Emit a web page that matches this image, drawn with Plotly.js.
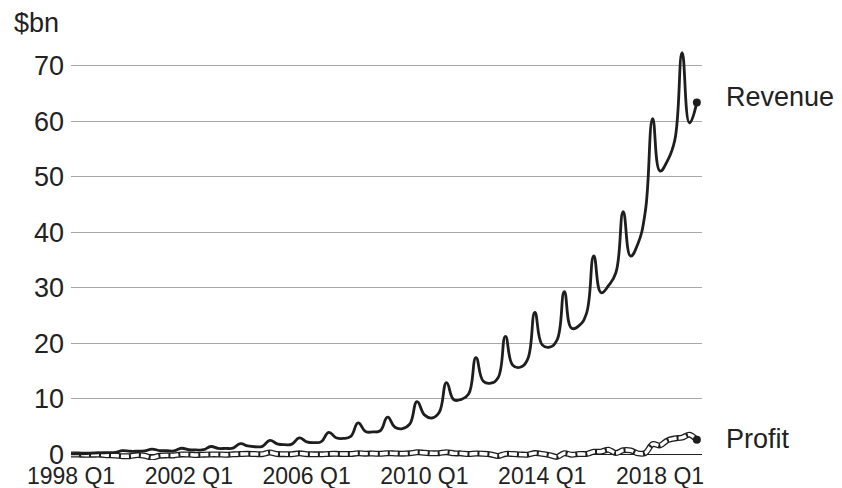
<!DOCTYPE html>
<html>
<head>
<meta charset="utf-8">
<script src="https://cdn.plot.ly/plotly-3.0.1.min.js"></script>
<style>html,body{margin:0;padding:0;background:#fff;}#chart{width:842px;height:488px;}</style>
</head>
<body>
<div id="chart"></div>
<script>
// Quarters 1998 Q1 .. 2019 Q2
const quarters = [];
for (let y = 1998; y <= 2019; y++) {
  for (let q = 1; q <= 4; q++) {
    if (y === 2019 && q > 2) break;
    quarters.push(y + ' Q' + q);
  }
}
const tickLabels = ['1998 Q1', '2002 Q1', '2006 Q1', '2010 Q1', '2014 Q1', '2018 Q1'];

// Revenue, $bn
const revenue = [
  0.087, 0.116, 0.154, 0.253,
  0.294, 0.314, 0.356, 0.676,
  0.574, 0.578, 0.638, 0.972,
  0.701, 0.668, 0.639, 1.115,
  0.847, 0.806, 0.851, 1.429,
  1.084, 1.100, 1.134, 1.946,
  1.530, 1.387, 1.462, 2.541,
  1.902, 1.753, 1.858, 2.977,
  2.279, 2.139, 2.307, 3.986,
  3.015, 2.886, 3.262, 5.673,
  4.135, 4.063, 4.265, 6.704,
  4.889, 4.651, 5.449, 9.519,
  7.131, 6.566, 7.560, 12.948,
  9.857, 9.913, 10.876, 17.431,
  13.185, 12.834, 13.806, 21.268,
  16.070, 15.704, 17.092, 25.587,
  19.741, 19.340, 20.579, 29.328,
  22.717, 23.185, 25.358, 35.746,
  29.128, 30.404, 32.714, 43.741,
  35.714, 37.955, 43.744, 60.453,
  51.042, 52.886, 56.576, 72.383,
  59.700, 63.404
];

// Profit (net income), $bn
const profit = [
  -0.010, -0.028, -0.045, -0.039,
  -0.036, -0.138, -0.197, -0.323,
  -0.308, -0.117, -0.241, -0.545,
  -0.234, -0.168, -0.170, 0.005,
  -0.023, -0.094, -0.035, 0.003,
  -0.001, -0.043, 0.015, 0.073,
  0.108, 0.076, 0.054, 0.347,
  0.078, 0.052, 0.030, 0.199,
  0.051, 0.022, 0.019, 0.098,
  0.111, 0.078, 0.080, 0.207,
  0.143, 0.158, 0.118, 0.225,
  0.177, 0.142, 0.199, 0.384,
  0.299, 0.207, 0.231, 0.416,
  0.201, 0.191, 0.063, 0.177,
  0.130, 0.007, -0.274, 0.097,
  0.082, -0.007, -0.041, 0.239,
  0.108, -0.126, -0.437, 0.214,
  -0.057, 0.092, 0.079, 0.482,
  0.513, 0.857, 0.252, 0.749,
  0.724, 0.197, 0.256, 1.856,
  1.629, 2.534, 2.883, 3.027,
  3.561, 2.625
];

const ink = '#1e1e1e';
const font = 'Liberation Sans, Arial, sans-serif';
const n = quarters.length;
const lastQ = quarters[n - 1];

const traces = [
  // Profit: chain-like outlined dashes
  {x: quarters, y: profit, mode: 'lines', line: {color: ink, width: 6, shape: 'spline', smoothing: 1}, hoverinfo: 'skip'},
  {x: quarters, y: profit, mode: 'lines', line: {color: '#ffffff', width: 3.4, shape: 'spline', smoothing: 1, dash: '8px,2px'}, hoverinfo: 'skip'},
  // Revenue
  {x: quarters, y: revenue, mode: 'lines', line: {color: ink, width: 2.8, shape: 'spline', smoothing: 1.3}, hoverinfo: 'skip'},
  // end dots
  {x: [lastQ], y: [revenue[n - 1]], mode: 'markers', marker: {color: ink, size: 8}, cliponaxis: false},
  {x: [lastQ], y: [profit[n - 1]], mode: 'markers', marker: {color: ink, size: 8}, cliponaxis: false}
];

const layout = {
  width: 842, height: 488,
  margin: {l: 71, r: 140, t: 38, b: 28},
  paper_bgcolor: '#fff', plot_bgcolor: '#fff',
  showlegend: false,
  font: {family: font, color: '#222'},
  xaxis: {
    type: 'category',
    range: [0, 85.7],
    tickvals: tickLabels, ticktext: tickLabels,
    showgrid: false, zeroline: false, showline: false,
    ticks: '', tickfont: {size: 23, color: '#222'},
    ticklabelstandoff: 0
  },
  yaxis: {
    range: [-1, 75],
    tickvals: [0, 10, 20, 30, 40, 50, 60, 70],
    showgrid: true, gridcolor: '#a8a8a8', gridwidth: 1,
    zeroline: true, zerolinecolor: '#222', zerolinewidth: 1.5,
    showline: false, ticks: '',
    tickfont: {size: 27, color: '#222'},
    ticklabelstandoff: 6
  },
  annotations: [
    {xref: 'paper', yref: 'paper', x: 0, y: 1, xanchor: 'left', yanchor: 'middle', xshift: -59, yshift: 15,
     text: '$bn', showarrow: false, font: {size: 27, color: '#222'}},
    {xref: 'x', yref: 'y', x: lastQ, y: revenue[n - 1], xanchor: 'left', yanchor: 'middle', xshift: 27, yshift: 5,
     text: 'Revenue', showarrow: false, font: {size: 27, color: '#222'}},
    {xref: 'x', yref: 'y', x: lastQ, y: profit[n - 1], xanchor: 'left', yanchor: 'middle', xshift: 27, yshift: 1,
     text: 'Profit', showarrow: false, font: {size: 27, color: '#222'}}
  ]
};

Plotly.newPlot('chart', traces, layout, {displayModeBar: false, staticPlot: true});
</script>
</body>
</html>
